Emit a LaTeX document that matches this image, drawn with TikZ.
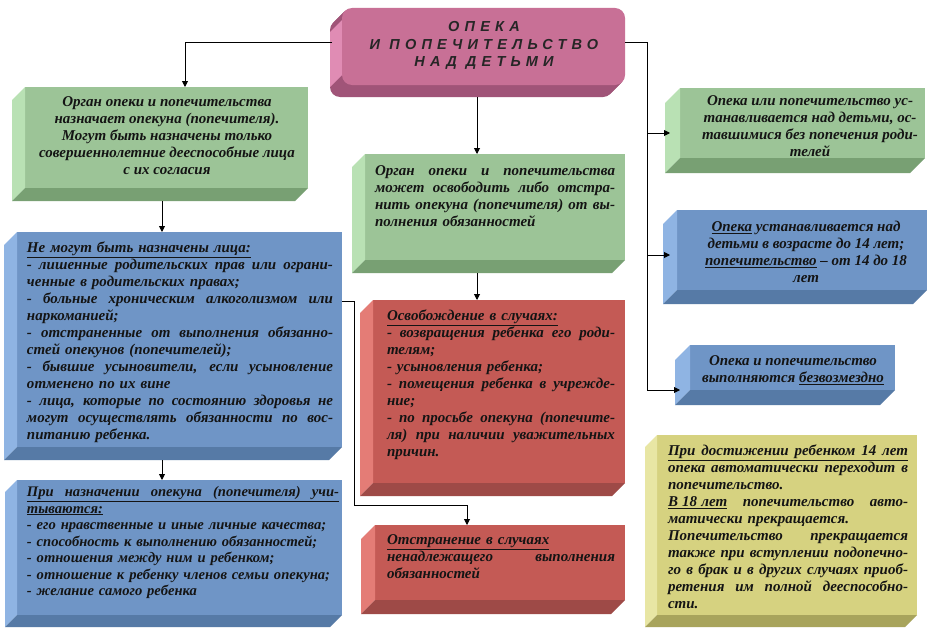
\documentclass[tikz,border=0pt]{standalone}
\usepackage{fontspec}
\setmainfont{Liberation Serif}
\newfontfamily\titlefont[LetterSpace=36]{Liberation Sans}
\usetikzlibrary{arrows.meta,fit,calc}
\setlength{\parindent}{0pt}
\newcommand\ul[1]{\underline{#1}}
\newcommand\jl[1]{\leavevmode\hbox to\hsize{\spaceskip=0.28em plus 3em minus 0.1em\relax\xspaceskip=\spaceskip #1}}
\definecolor{gface}{HTML}{9CC497}
\definecolor{glight}{HTML}{B9E1B4}
\definecolor{gdark}{HTML}{78A073}
\definecolor{bface}{HTML}{6F95C6}
\definecolor{blight}{HTML}{8FB4E3}
\definecolor{bdark}{HTML}{567AA6}
\definecolor{rface}{HTML}{C45A55}
\definecolor{rlight}{HTML}{E47C76}
\definecolor{rdark}{HTML}{9E4A47}
\definecolor{yface}{HTML}{D6D280}
\definecolor{ylight}{HTML}{E8E6A4}
\definecolor{ydark}{HTML}{A8A45C}
\definecolor{tface}{HTML}{C87096}
\definecolor{tlight}{HTML}{E08CB4}
\definecolor{tdark}{HTML}{A05478}
\newcommand\bevel[4]{%
  \fill[#3] ([shift={(-#2pt,-#2pt)}]#1.north west) -- (#1.north west) -- (#1.south west) -- ([shift={(-#2pt,-#2pt)}]#1.south west) -- cycle;
  \fill[#4] ([shift={(-#2pt,-#2pt)}]#1.south west) -- (#1.south west) -- (#1.south east) -- ([shift={(-#2pt,-#2pt)}]#1.south east) -- cycle;}
\begin{document}
\begin{tikzpicture}[x=1pt,y=-1pt,
  face/.style={inner sep=0pt, outer sep=0pt, draw=none},
  txt/.style={font=\fontsize{15}{17}\selectfont\bfseries\itshape, text=black!92, inner sep=0pt, align=left},
  ctxt/.style={txt, align=center},
  conn/.style={draw=black, line width=0.9pt},
  arr/.style={conn, -{Triangle[length=6pt,width=6pt]}}]
\fill[white] (0,0) rectangle (928,634);
\useasboundingbox (0,0) rectangle (928,634);

% title box
\foreach \k in {1,...,12} \fill[tdark, rounded corners=10pt] (342-\k,8+\k) rectangle (625-\k,85+\k);
\fill[tlight] (342,20) -- (330,32) -- (330,87) -- (342,75) -- cycle;
\node[face, fill=tface, rounded corners=10pt, fit={(342,8) (625,85)}] (T) {};
\node[font=\titlefont\bfseries\itshape\fontsize{14.5}{17.5}\selectfont, text=black!85, align=center, inner sep=0pt] (Tt) at (484,45.5) {ОПЕКА\\И ПОПЕЧИТЕЛЬСТВО\\НАД ДЕТЬМИ};

% faces
\node[face, fill=gface, fit={(25,87) (308,188)}] (G1) {};
\bevel{G1}{13}{glight}{gdark}
\node[face, fill=bface, fit={(17,232) (342,447)}] (B1) {};
\bevel{B1}{13}{blight}{bdark}
\node[face, fill=bface, fit={(17,480) (342,615)}] (B2) {};
\bevel{B2}{12}{blight}{bdark}
\node[face, fill=gface, fit={(365,154) (625,260)}] (M1) {};
\bevel{M1}{13}{glight}{gdark}
\node[face, fill=rface, fit={(373,300) (625,483)}] (M2) {};
\bevel{M2}{13}{rlight}{rdark}
\node[face, fill=rface, fit={(375,525) (625,600)}] (M3) {};
\bevel{M3}{14}{rlight}{rdark}
\node[face, fill=gface, fit={(680,88) (925,158)}] (G2) {};
\bevel{G2}{15}{glight}{gdark}
\node[face, fill=bface, fit={(677,210) (927,290)}] (B3) {};
\bevel{B3}{14}{blight}{bdark}
\node[face, fill=bface, fit={(690,345) (895,390)}] (B4) {};
\bevel{B4}{15}{blight}{bdark}
\node[face, fill=yface, fit={(657,435) (917,615)}] (Y) {};
\bevel{Y}{12}{ylight}{ydark}

% texts
\node[ctxt] (G1t) at (167,136) {Орган опеки и попечительства\\назначает опекуна (попечителя).\\Могут быть назначены только\\совершеннолетние дееспособные лица\\с их согласия};

\node[txt, text width=306pt] (B1t) at (180,342.5) {\ul{Не могут быть назначены лица:}\\
\jl{- лишенные родительских прав или ограни-}\\
ченные в родительских правах;\\
\jl{- больные хроническим алкоголизмом или}\\
наркоманией;\\
\jl{- отстраненные от выполнения обязанно-}\\
стей опекунов (попечителей);\\
\jl{- бывшие усыновители, если усыновление}\\
отменено по их вине\\
\jl{- лица, которые по состоянию здоровья не}\\
\jl{могут осуществлять обязанности по вос-}\\
питанию ребенка.};

\node[txt, font=\fontsize{14.6}{16.5}\selectfont\bfseries\itshape, text width=312pt] (B2t) at (183,542.5) {\underline{\jl{При назначении опекуна (попечителя) учи-}}\\
\ul{тываются:}\\
- его нравственные и иные личные качества;\\
- способность к выполнению обязанностей;\\
- отношения между ним и ребенком;\\
- отношение к ребенку членов семьи опекуна;\\
- желание самого ребенка};

\node[txt, text width=240pt] (M1t) at (495,196) {\jl{Орган опеки и попечительства}\\
\jl{может освободить либо отстра-}\\
\jl{нить опекуна (попечителя) от вы-}\\
полнения обязанностей};

\node[txt, text width=228pt] (M2t) at (501,384.5) {\ul{Освобождение в случаях:}\\
\jl{- возвращения ребенка его роди-}\\
телям;\\
- усыновления ребенка;\\
\jl{- помещения ребенка в учрежде-}\\
ние;\\
\jl{- по просьбе опекуна (попечите-}\\
\jl{ля) при наличии уважительных}\\
причин.};

\node[txt, text width=228pt] (M3t) at (501,557) {\ul{Отстранение в случаях}\\
\jl{ненадлежащего выполнения}\\
обязанностей};

\node[ctxt] (G2t) at (810,126) {Опека или попечительство ус-\\танавливается над детьми, ос-\\тавшимися без попечения роди-\\телей};

\node[ctxt] (B3t) at (806,252) {\ul{Опека} устанавливается над\\детьми в возрасте до 14 лет;\\\ul{попечительство} – от 14 до 18\\лет};

\node[ctxt] (B4t) at (793,370) {Опека и попечительство\\выполняются \ul{безвозмездно}};

\node[txt, text width=240pt] (Yt) at (788,526.5) {\underline{\jl{При достижении ребенком 14 лет}}\\
\jl{опека автоматически переходит в}\\
попечительство.\\
\jl{\ul{В 18 лет} попечительство авто-}\\
матически прекращается.\\
\jl{Попечительство прекращается}\\
\jl{также при вступлении подопечно-}\\
\jl{го в брак и в других случаях приоб-}\\
\jl{ретения им полной дееспособно-}\\
сти.};

% connectors
\coordinate (m1in) at ([xshift=-18pt]M1.north);
\coordinate (m2in) at ([xshift=-22pt]M2.north);
\coordinate (m3in) at ([xshift=-33pt]M3.north);
\coordinate (b1in) at ([xshift=-17.5pt]B1.north);
\coordinate (b2in) at ([xshift=-17.5pt]B2.north);
\coordinate (g2in) at ([shift={(-10pt,-10pt)}]G2.west);
\coordinate (b3in) at ([shift={(-7pt,-5pt)}]B3.west);
\coordinate (b4in) at ([xshift=-10pt]B4.south west);
\coordinate (rb) at ($(b4in)+(-33,0)$);
\coordinate (kink) at (354,505);

\draw[arr] ([shift={(-10pt,4.5pt)}]T.west) -| ([xshift=18.5pt]G1.north);
\draw[conn] ([yshift=4.5pt]T.east) -| (rb);
\draw[arr] (rb) -- (b4in);
\draw[arr] (rb |- g2in) -- (g2in);
\draw[arr] (rb |- b3in) -- (b3in);
\draw[arr] ([yshift=-12pt]T.south -| m1in) -- (m1in);
\draw[arr] ([yshift=-13pt]M1.south -| m2in) -- (m2in);
\draw[arr] ([yshift=-13pt]G1.south -| b1in) -- (b1in);
\draw[arr] ([yshift=-13pt]B1.south -| b2in) -- (b2in);
\draw[arr] ([yshift=38.5pt]B1.east) -| (kink) -| (m3in);
\end{tikzpicture}
\end{document}
